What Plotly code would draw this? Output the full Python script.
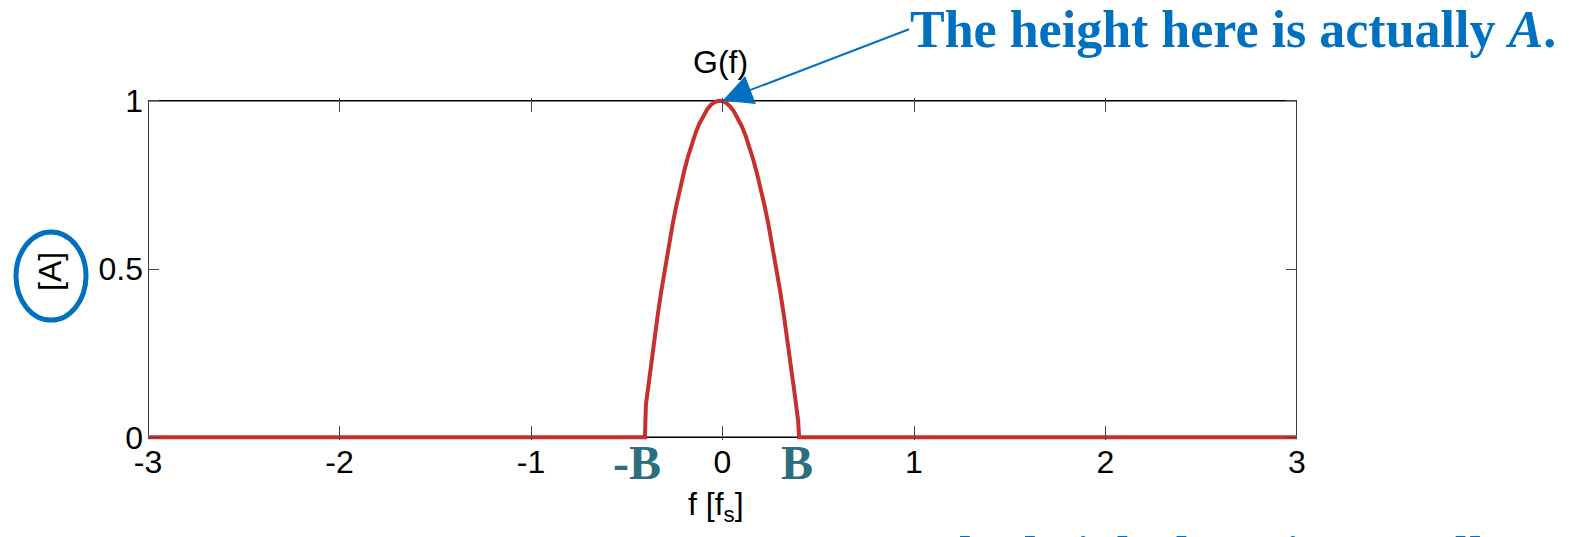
import plotly.graph_objects as go

# Data
f_vals = [-3.0, -0.405, -0.40, -0.38, -0.36, -0.34, -0.32, -0.30, -0.28, -0.26, -0.24,
          -0.22, -0.20, -0.18, -0.16, -0.14, -0.12, -0.10, -0.08, -0.06, -0.04,
          -0.02, 0.0, 0.02, 0.04, 0.06, 0.08, 0.10, 0.12, 0.14, 0.16, 0.18,
          0.20, 0.22, 0.24, 0.26, 0.28, 0.30, 0.32, 0.34, 0.36, 0.38, 0.39,
          0.395, 0.40, 3.0]
g_vals = [0.0, 0.0, 0.096, 0.188, 0.274, 0.356, 0.433, 0.505, 0.572, 0.634, 0.691,
          0.744, 0.791, 0.834, 0.872, 0.905, 0.933, 0.956, 0.974, 0.988, 0.996,
          1.0, 0.999, 0.993, 0.983, 0.968, 0.949, 0.925, 0.897, 0.864, 0.826, 0.784,
          0.738, 0.687, 0.632, 0.571, 0.507, 0.438, 0.364, 0.286, 0.203, 0.116, 0.07,
          0.05, 0.0, 0.0]
x_ticks = [-3, -2, -1, 0, 1, 2, 3]
y_ticks = [0, 0.5, 1]

# Layout in pixels (frame of the axes box)
W, H = 1569, 537
L, R, T, B = 148, 1297, 101, 437
pw, ph = R - L, B - T
PAD = 0.008  # small y padding so the thick line on y=0 is not clipped
pad_px = PAD * ph


def px(x):
    return (x - L) / pw


def py(y):
    # paper y for the real plot area (which includes the padding)
    top = T - pad_px
    bot = B + pad_px
    return (bot - y) / (bot - top)


BLUE = "#0070C0"
TEAL = "#2B6F7F"
RED = "#C8302F"
SANS = "Liberation Sans, Arial, sans-serif"
SERIF = "Liberation Serif, Times New Roman, serif"

fig = go.Figure()
fig.add_trace(go.Scatter(x=f_vals, y=g_vals, mode="lines",
                         line=dict(color=RED, width=4), cliponaxis=False,
                         showlegend=False, hoverinfo="skip"))

axis_common = dict(showgrid=False, zeroline=False, showline=False,
                   mirror="ticks", ticks="inside",
                   tickwidth=1, tickcolor="#444",
                   tickfont=dict(family=SANS, size=32, color="black"))

fig.update_xaxes(range=[-3, 3], tickvals=x_ticks, ticktext=[str(v) for v in x_ticks],
                 ticklen=14, ticklabelstandoff=0, **axis_common)
fig.update_yaxes(range=[-PAD, 1 + PAD], tickvals=y_ticks, ticktext=["0", "0.5", "1"],
                 ticklen=11, ticklabelstandoff=4, **axis_common)

annotations = [
    dict(x=px(720), y=py(62), xref="paper", yref="paper", text="G(f)", showarrow=False,
         font=dict(family=SANS, size=32, color="black"), xanchor="center", yanchor="middle"),
    dict(x=px(716), y=py(506), xref="paper", yref="paper", text="f [f<sub>s</sub>]",
         showarrow=False, font=dict(family=SANS, size=32, color="black"),
         xanchor="center", yanchor="middle"),
    dict(x=px(50), y=py(272), xref="paper", yref="paper", text="[A]", textangle=-90,
         showarrow=False, font=dict(family=SANS, size=32, color="black"),
         xanchor="center", yanchor="middle"),
    dict(x=px(637), y=py(462), xref="paper", yref="paper", text="<b>-B</b>",
         showarrow=False, font=dict(family=SERIF, size=48, color=TEAL),
         xanchor="center", yanchor="middle"),
    dict(x=px(797), y=py(462), xref="paper", yref="paper", text="<b>B</b>",
         showarrow=False, font=dict(family=SERIF, size=48, color=TEAL),
         xanchor="center", yanchor="middle"),
    dict(x=px(908), y=py(30), xref="paper", yref="paper",
         text="<b>The height here is actually <i>A</i>.</b>",
         showarrow=False, font=dict(family=SERIF, size=52, color=BLUE),
         xanchor="left", yanchor="middle"),
    dict(x=px(922), y=py(555), xref="paper", yref="paper",
         text="<b>The height here is actually smaller</b>",
         showarrow=False, font=dict(family=SERIF, size=52, color=BLUE),
         xanchor="left", yanchor="middle"),
    dict(x=0, y=1, xref="x", yref="y", text="", showarrow=True,
         ax=188, ay=-72, axref="pixel", ayref="pixel",
         arrowcolor=BLUE, arrowwidth=2, arrowhead=2, arrowsize=3, standoff=0),
]

shapes = [
    # axes box
    dict(type="rect", xref="x", yref="y", x0=-3, x1=3, y0=0, y1=1,
         line=dict(color="black", width=1.5), layer="below"),
    dict(type="circle", xref="paper", yref="paper",
         x0=px(16), x1=px(86), y0=py(320), y1=py(232),
         line=dict(color=BLUE, width=5)),
]

fig.update_layout(width=W, height=H,
                  margin=dict(l=L, r=W - R, t=T - pad_px, b=H - B - pad_px),
                  paper_bgcolor="white", plot_bgcolor="white",
                  annotations=annotations, shapes=shapes)

fig.write_html("out.html", config={"displayModeBar": False},
               post_script="document.body.style.margin='0';document.body.style.padding='0';")
